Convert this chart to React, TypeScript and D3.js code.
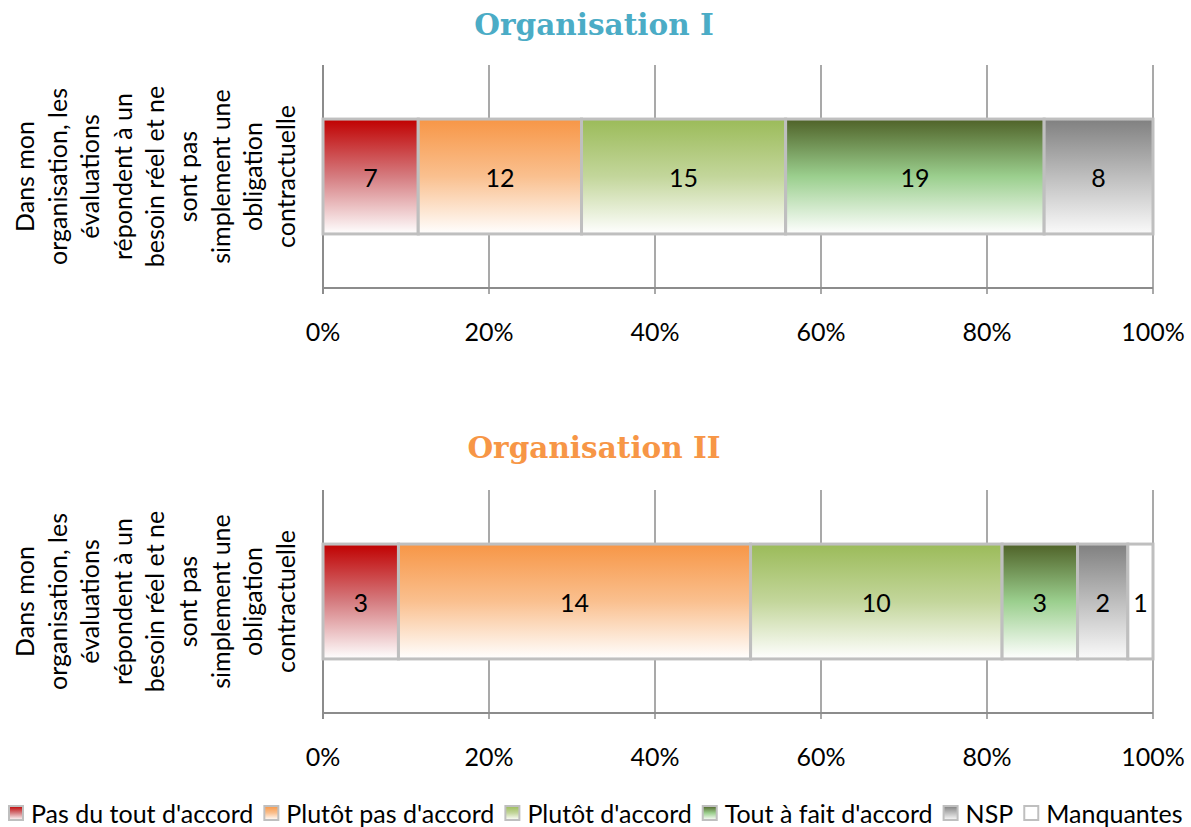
import React from "react";
import * as d3 from "d3";

// Response categories (stack order, left to right)
const categories = [
  "Pas du tout d'accord",
  "Plutôt pas d'accord",
  "Plutôt d'accord",
  "Tout à fait d'accord",
  "NSP",
  "Manquantes",
];

// Counts per organisation
const orgIValues = [7, 12, 15, 19, 8, 0];
const orgIIValues = [3, 14, 10, 3, 2, 1];

const panelTitles = ["Organisation I", "Organisation II"];
const questionLines = [
  "Dans mon",
  "organisation, les",
  "évaluations",
  "répondent à un",
  "besoin réel et ne",
  "sont pas",
  "simplement une",
  "obligation",
  "contractuelle",
];
const tickValues = [0, 0.2, 0.4, 0.6, 0.8, 1];

// Gradient stops per category (top -> bottom)
const gradientStops: [number, string][][] = [
  [[0, "#C00000"], [0.5, "#D57C80"], [1, "#FFFFFF"]],
  [[0, "#F79646"], [0.5, "#FAC08F"], [1, "#FFFFFF"]],
  [[0, "#9BBB59"], [0.5, "#C3D69B"], [1, "#FFFFFF"]],
  [[0, "#4F6228"], [0.5, "#9BCF8E"], [1, "#FFFFFF"]],
  [[0, "#808080"], [0.5, "#BEBEBE"], [1, "#FAFAFA"]],
  [[0, "#FFFFFF"], [1, "#FFFFFF"]],
];
const titleColors = ["#4BACC6", "#F79646"];

const FONT = "Lato, 'Noto Sans', sans-serif";
const FONT_SIZE = 25;

const W = 1191;
const H = 827;
const plotLeft = 323;
const plotRight = 1153;

const panels = [
  { values: orgIValues, top: 65, bottom: 288, titleY: 35, labelY: 331 },
  { values: orgIIValues, top: 490, bottom: 713, titleY: 458, labelY: 756 },
];

function measure(text: string, font: string): number {
  const c = document.createElement("canvas").getContext("2d");
  if (!c) return text.length * 12;
  c.font = font;
  return c.measureText(text).width;
}

function Panel({ idx }: { idx: number }) {
  const p = panels[idx];
  const total = d3.sum(p.values);
  const x = d3.scaleLinear().domain([0, 1]).range([plotLeft, plotRight]);
  const y = d3
    .scaleBand<string>()
    .domain(["q"])
    .range([p.top, p.bottom])
    .padding(0.32);
  const stack = d3
    .stack<number[]>()
    .keys(categories.map((_, i) => String(i)))
    .value((d, k) => d[+k] / total);
  const series = stack([p.values]);
  const bandY = y("q") as number;
  const bw = y.bandwidth();
  const midY = bandY + bw / 2;
  const centerY = (p.top + p.bottom) / 2;

  return (
    <g>
      <text
        x={594}
        y={p.titleY}
        textAnchor="middle"
        fontFamily="'DejaVu Serif', serif"
        fontWeight="bold"
        fontSize={29.5}
        fill={titleColors[idx]}
      >
        {panelTitles[idx]}
      </text>
      {/* vertical gridlines */}
      {tickValues.slice(1).map((t) => (
        <line
          key={t}
          x1={x(t)}
          x2={x(t)}
          y1={p.top}
          y2={p.bottom + 6}
          stroke="#8C8C8C"
          strokeWidth={1.5}
        />
      ))}
      {/* left axis */}
      <line
        x1={x(0)}
        x2={x(0)}
        y1={p.top}
        y2={p.bottom + 6}
        stroke="#8C8C8C"
        strokeWidth={2}
      />
      {/* bottom axis */}
      <line
        x1={x(0)}
        x2={x(1)}
        y1={p.bottom}
        y2={p.bottom}
        stroke="#8C8C8C"
        strokeWidth={2}
      />
      {/* bars */}
      {series.map((s, i) => {
        const [a, b] = s[0];
        if (b - a <= 0) return null;
        return (
          <rect
            key={i}
            x={x(a)}
            y={bandY}
            width={x(b) - x(a)}
            height={bw}
            fill={`url(#grad-${i})`}
            stroke="#BFBFBF"
            strokeWidth={3}
          />
        );
      })}
      {series.map((s, i) => {
        const [a, b] = s[0];
        if (b - a <= 0) return null;
        return (
          <text
            key={"l" + i}
            x={(x(a) + x(b)) / 2}
            y={midY}
            dominantBaseline="central"
            textAnchor="middle"
            fontFamily={FONT}
            fontSize={FONT_SIZE}
            fill="#000"
          >
            {p.values[i]}
          </text>
        );
      })}
      {/* tick labels */}
      {tickValues.map((t) => (
        <text
          key={"t" + t}
          x={x(t)}
          y={p.labelY}
          dominantBaseline="central"
          textAnchor="middle"
          fontFamily={FONT}
          fontSize={FONT_SIZE}
          fill="#000"
        >
          {d3.format(".0%")(t)}
        </text>
      ))}
      {/* rotated question label */}
      {questionLines.map((line, i) => (
        <text
          key={"q" + i}
          transform={`translate(${24 + i * 32.6},${centerY}) rotate(-90)`}
          dominantBaseline="central"
          textAnchor="middle"
          fontFamily={FONT}
          fontSize={FONT_SIZE}
          fill="#000"
        >
          {line}
        </text>
      ))}
    </g>
  );
}

function Legend() {
  const font = `${FONT_SIZE}px Lato`;
  let cx = 8;
  const items = categories.map((c, i) => {
    const sx = cx;
    const tw = measure(c, font);
    cx = sx + 23 + tw + 10;
    return { c, i, sx };
  });
  const ly = 813;
  return (
    <g>
      {items.map(({ c, i, sx }) => (
        <g key={c}>
          <rect
            x={sx + 1}
            y={ly - 7}
            width={14}
            height={14}
            fill={`url(#grad-${i})`}
            stroke="#BFBFBF"
            strokeWidth={2}
          />
          <text
            x={sx + 23}
            y={ly}
            dominantBaseline="central"
            fontFamily={FONT}
            fontSize={FONT_SIZE}
            fill="#000"
          >
            {c}
          </text>
        </g>
      ))}
    </g>
  );
}

export default function App() {
  return (
    <svg
      width={W}
      height={H}
      style={{ position: "absolute", left: 0, top: 0, background: "#fff" }}
    >
      <defs>
        {gradientStops.map((stops, i) => (
          <linearGradient key={i} id={`grad-${i}`} x1="0" y1="0" x2="0" y2="1">
            {stops.map(([o, c], j) => (
              <stop key={j} offset={o} stopColor={c} />
            ))}
          </linearGradient>
        ))}
      </defs>
      <rect width={W} height={H} fill="#fff" />
      <Panel idx={0} />
      <Panel idx={1} />
      <Legend />
    </svg>
  );
}
